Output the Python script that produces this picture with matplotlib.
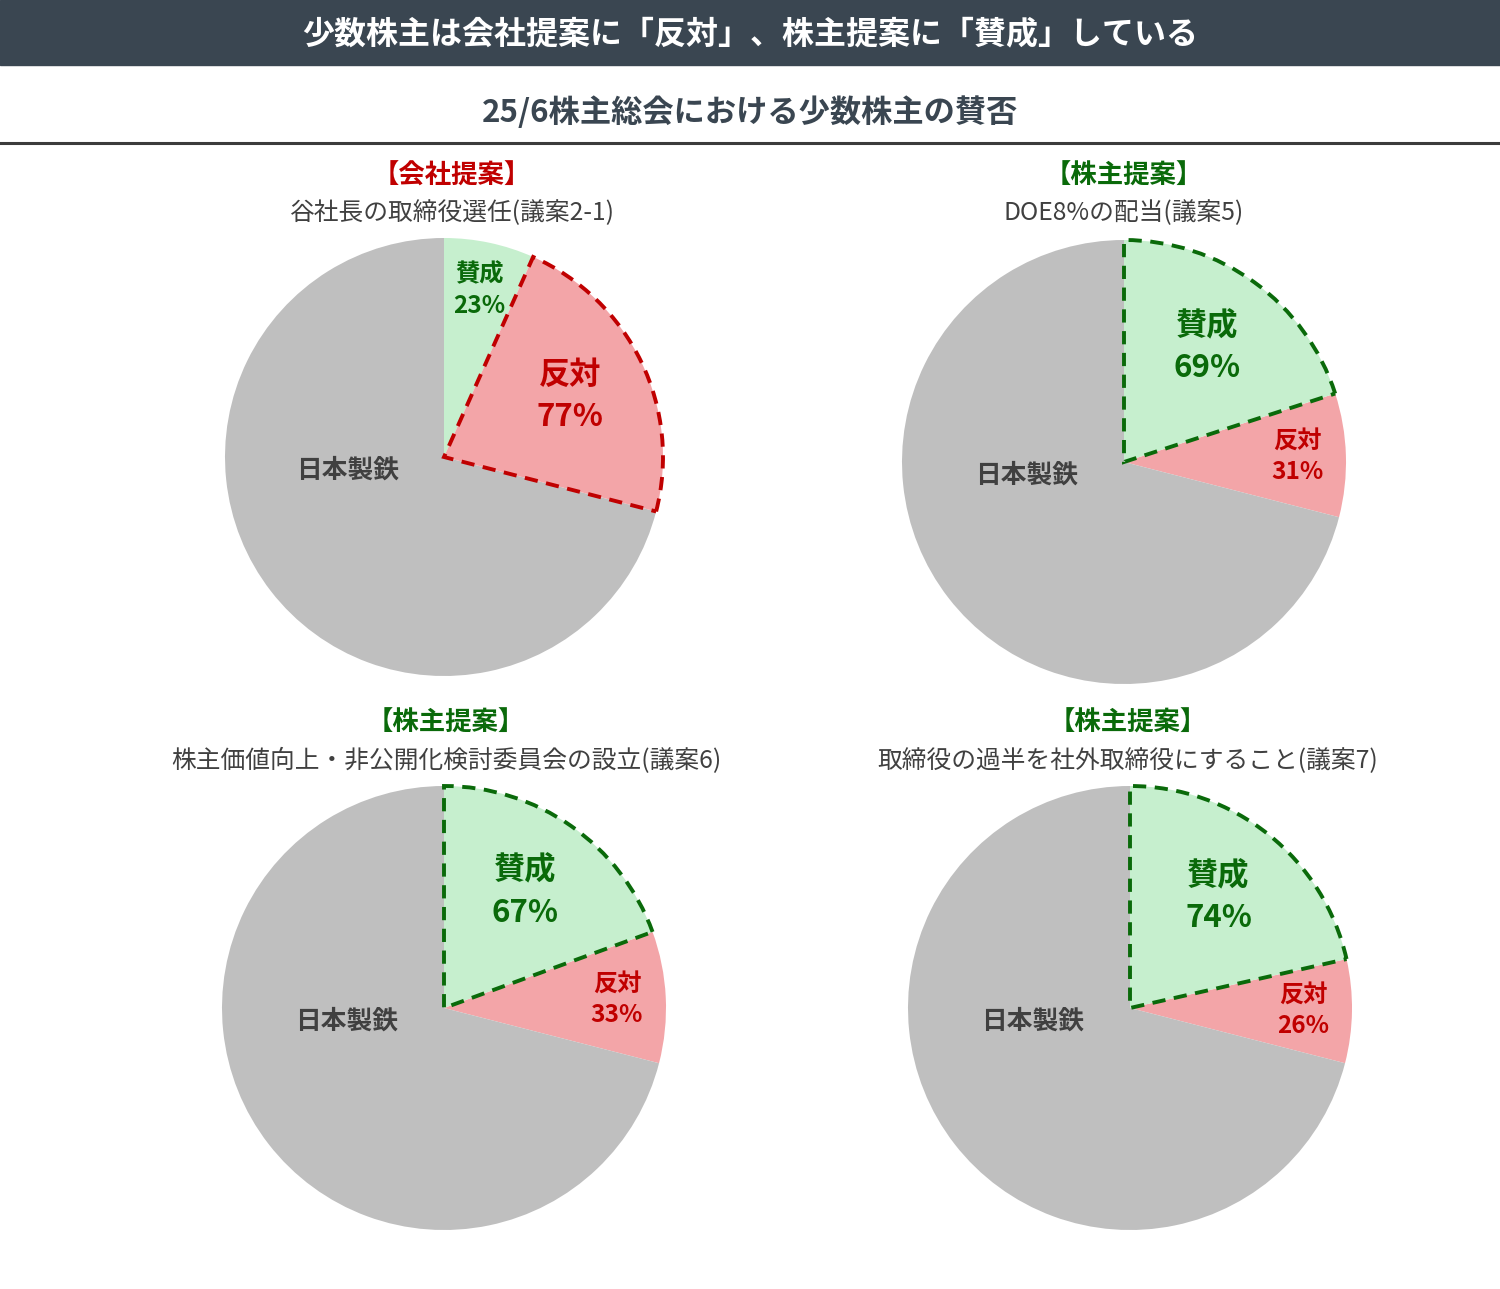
import matplotlib
matplotlib.use('Agg')
import matplotlib.pyplot as plt
from matplotlib.patches import Rectangle
from matplotlib.lines import Line2D
import numpy as np

plt.rcParams['font.family'] = ['Noto Sans CJK JP', 'DejaVu Sans']

# データ
nippon_share = 71.0  # 日本製鉄の持分(%)
proposal_kind = ['会社提案', '株主提案', '株主提案', '株主提案']
proposal_names = ['谷社長の取締役選任(議案2-1)',
                  'DOE8%の配当(議案5)',
                  '株主価値向上・非公開化検討委員会の設立(議案6)',
                  '取締役の過半を社外取締役にすること(議案7)']
yes_pct = [23, 69, 67, 74]
no_pct = [77, 31, 33, 26]

title = '少数株主は会社提案に「反対」、株主提案に「賛成」している'
subtitle = '25/6株主総会における少数株主の賛否'

# 色
c_bar = '#3a4651'
c_gray = '#bfbfbf'
c_green_fill = '#c6efce'
c_red_fill = '#f3a5a8'
c_green = '#0a6a0a'
c_red = '#c00000'
c_text = '#404040'

W, H = 1500, 1289
fig = plt.figure(figsize=(W / 100, H / 100), dpi=100)


def fx(x):
    return x / W


def fy(y):
    return 1 - y / H


# タイトルバー
fig.patches.append(Rectangle((0, fy(65)), 1, 65 / H, transform=fig.transFigure,
                             color=c_bar, zorder=0))
fig.text(0.5, fy(34), title, color='white', fontsize=23, fontweight='bold',
         ha='center', va='center')
fig.text(0.5, fy(113), subtitle, color=c_bar, fontsize=22.5, fontweight='bold',
         ha='center', va='center')
fig.lines.append(Line2D([0, 1], [fy(143), fy(143)], transform=fig.transFigure,
                        color='#3c3c3c', lw=2.2))

# 各円グラフの配置 (中心x, 中心y, 半径) px
centers = [(444, 457, 219), (1124, 462, 222), (444, 1008, 222), (1130, 1008, 222)]
header_pos = [(452, 176, 213), (1124, 176, 213), (446, 723, 761), (1128, 723, 761)]

box = 245
for i in range(4):
    cx, cy, r = centers[i]
    ax = fig.add_axes([fx(cx - box), fy(cy + box), 2 * box / W, 2 * box / H])
    lim = box / r
    minority = 100 - nippon_share
    sizes = [minority * yes_pct[i] / 100, minority * no_pct[i] / 100, nippon_share]
    wedges, _ = ax.pie(sizes, colors=[c_green_fill, c_red_fill, c_gray],
                       startangle=90, counterclock=False, radius=1,
                       wedgeprops=dict(linewidth=0))
    ax.set_xlim(-lim, lim)
    ax.set_ylim(-lim, lim)
    ax.set_aspect('equal')
    ax.axis('off')

    yes_wins = yes_pct[i] > no_pct[i]
    hi = 0 if yes_wins else 1
    hi_col = c_green if yes_wins else c_red
    w = wedges[hi]
    w.set_edgecolor(hi_col)
    w.set_linewidth(2.8)
    w.set_linestyle((0, (3.4, 2.2)))
    w.set_zorder(5)

    # ラベル
    for k, (name, pct, col) in enumerate([('賛成', yes_pct[i], c_green),
                                          ('反対', no_pct[i], c_red)]):
        wd = wedges[k]
        mid = np.deg2rad((wd.theta1 + wd.theta2) / 2)
        rr = 0.64 if k == hi else 0.78
        fs = 22.5 if k == hi else 17.5
        ax.text(rr * np.cos(mid), rr * np.sin(mid), f'{name}\n{pct}%',
                color=col, fontsize=fs, fontweight='bold', ha='center',
                va='center', linespacing=1.4, zorder=10)
    ax.text(-0.44, -0.06, '日本製鉄', color=c_text, fontsize=18.5,
            fontweight='bold', ha='center', va='center', zorder=10)

    hx, hy1, hy2 = header_pos[i]
    kind_col = c_red if proposal_kind[i] == '会社提案' else c_green
    fig.text(fx(hx), fy(hy1), f'【{proposal_kind[i]}】', color=kind_col,
             fontsize=19, fontweight='bold', ha='center', va='center')
    fig.text(fx(hx), fy(hy2), proposal_names[i], color=c_text, fontsize=17.8,
             ha='center', va='center')

fig.savefig('out.png', dpi=100, facecolor='white')
